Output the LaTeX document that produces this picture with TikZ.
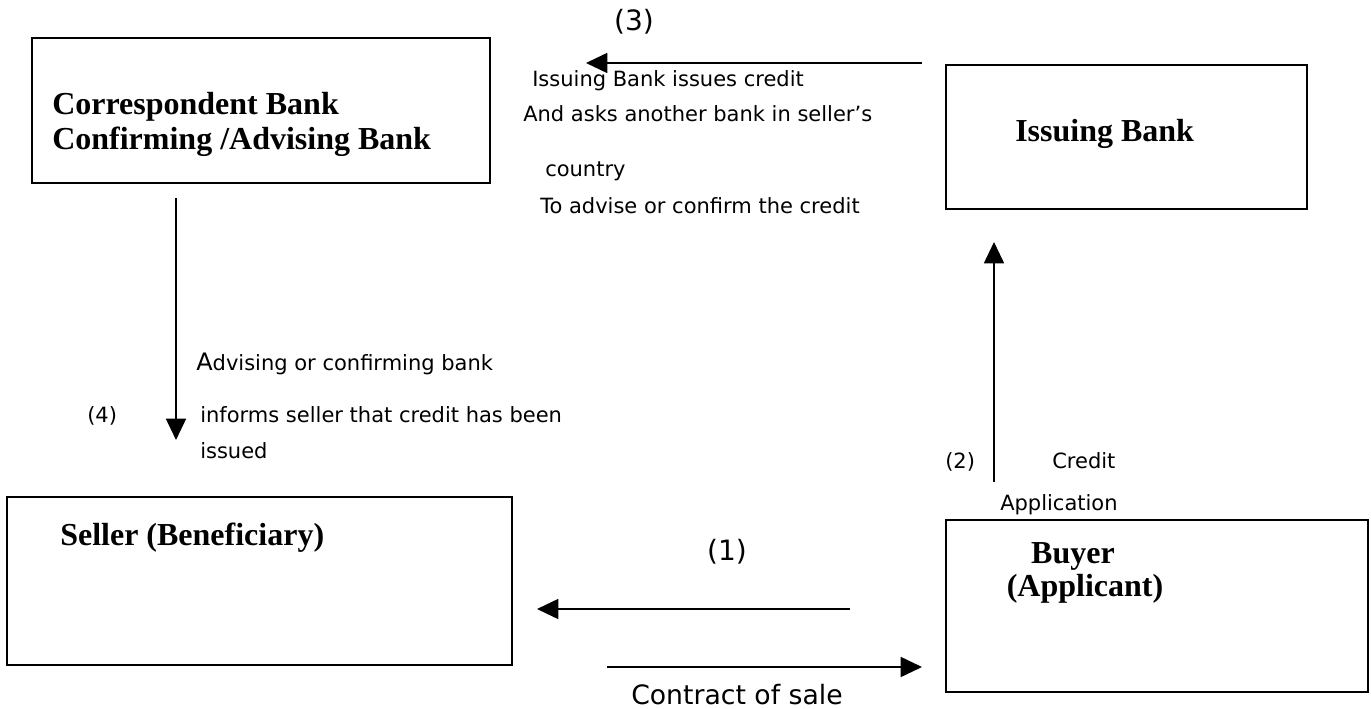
\documentclass[tikz,border=0pt]{standalone}
\usepackage{fontspec}
\setmainfont{DejaVu Sans}
\newfontfamily\tnr{Liberation Serif}
\usetikzlibrary{arrows.meta,positioning}

\begin{document}
\begin{tikzpicture}[
  x=0.75pt, y=-0.75pt,
  caja/.style={rectangle, draw, line width=1.3pt, inner sep=0pt},
  rotulo/.style={font=\tnr\bfseries\fontsize{24}{27}\selectfont, inner sep=0pt, anchor=base west},
  nota/.style={font=\fontsize{15.75}{18}\selectfont, inner sep=0pt, anchor=base west},
  numero/.style={font=\fontsize{21}{24}\selectfont, inner sep=0pt, anchor=base},
  flecha/.style={-{Triangle[length=16pt,width=15pt]}, line width=1.3pt}
]
\useasboundingbox (0,0) rectangle (1371,709);

% the four parties
\node[caja, minimum width=343.5pt, minimum height=108.75pt] (corr) at (261,110.5) {};
\node[caja, minimum width=270.75pt, minimum height=108pt] (issuing) at (1126.5,137) {};
\node[caja, minimum width=378.75pt, minimum height=126pt] (seller) at (259.5,581) {};
\node[caja, minimum width=316.5pt, minimum height=129pt] (buyer) at (1157,606) {};

\node[rotulo] (corr1) at (52,115) {Correspondent Bank};
\node[rotulo] (corr2) at (52,150) {Confirming /Advising Bank};
\node[rotulo] (issuingtxt) at (1015,142) {Issuing Bank};
\node[rotulo] (sellertxt) at (60,545) {Seller (Beneficiary)};
\node[rotulo, anchor=base] (buyer1) at (1073,563) {Buyer};
\node[rotulo, anchor=base] (buyer2) at (1085,596) {(Applicant)};

% (1) contract of sale
\coordinate (c1a) at (850,609);
\coordinate (c1b) at (537,609);
\coordinate (c1c) at (607,667);
\coordinate (c1d) at (922,667);
\draw[flecha] (c1a) -- (c1b);
\draw[flecha] (c1c) -- (c1d);
\node[numero] (n1) at (727,560) {(1)};
\node[numero, font=\fontsize{20}{24}\selectfont] (contrato) at (737,704) {Contract of sale};

% (2) credit application
\coordinate (c2a) at (994,482);
\coordinate (c2b) at (994,242);
\draw[flecha] (c2a) -- (c2b);
\node[nota] (n2) at (945,468) {(2)};
\node[nota] (credit) at (1052,468) {Credit};
\node[nota] (appl) at (1000,510) {Application};

% (3) issuing bank to correspondent
\coordinate (c3a) at (922,63);
\coordinate (c3b) at (586,63);
\draw[flecha] (c3a) -- (c3b);
\node[numero] (n3) at (634,31) {(3)};
\node[nota] (t3a) at (532,87) {Issuing Bank issues credit};
\node[nota] (t3b) at (523,122) {And asks another bank in seller’s};
\node[nota] (t3c) at (545,177) {country};
\node[nota] (t3d) at (540,214) {To advise or confirm the credit};

% (4) advising bank to seller
\coordinate (c4a) at (176,198);
\coordinate (c4b) at (176,440);
\draw[flecha] (c4a) -- (c4b);
\node[nota] (n4) at (87,422) {(4)};
\node[nota] (t4a) at (196,370) {{\fontsize{18}{18}\selectfont A}dvising or confirming bank};
\node[nota] (t4b) at (200,422) {informs seller that credit has been};
\node[nota] (t4c) at (200,458) {issued};
\end{tikzpicture}
\end{document}
